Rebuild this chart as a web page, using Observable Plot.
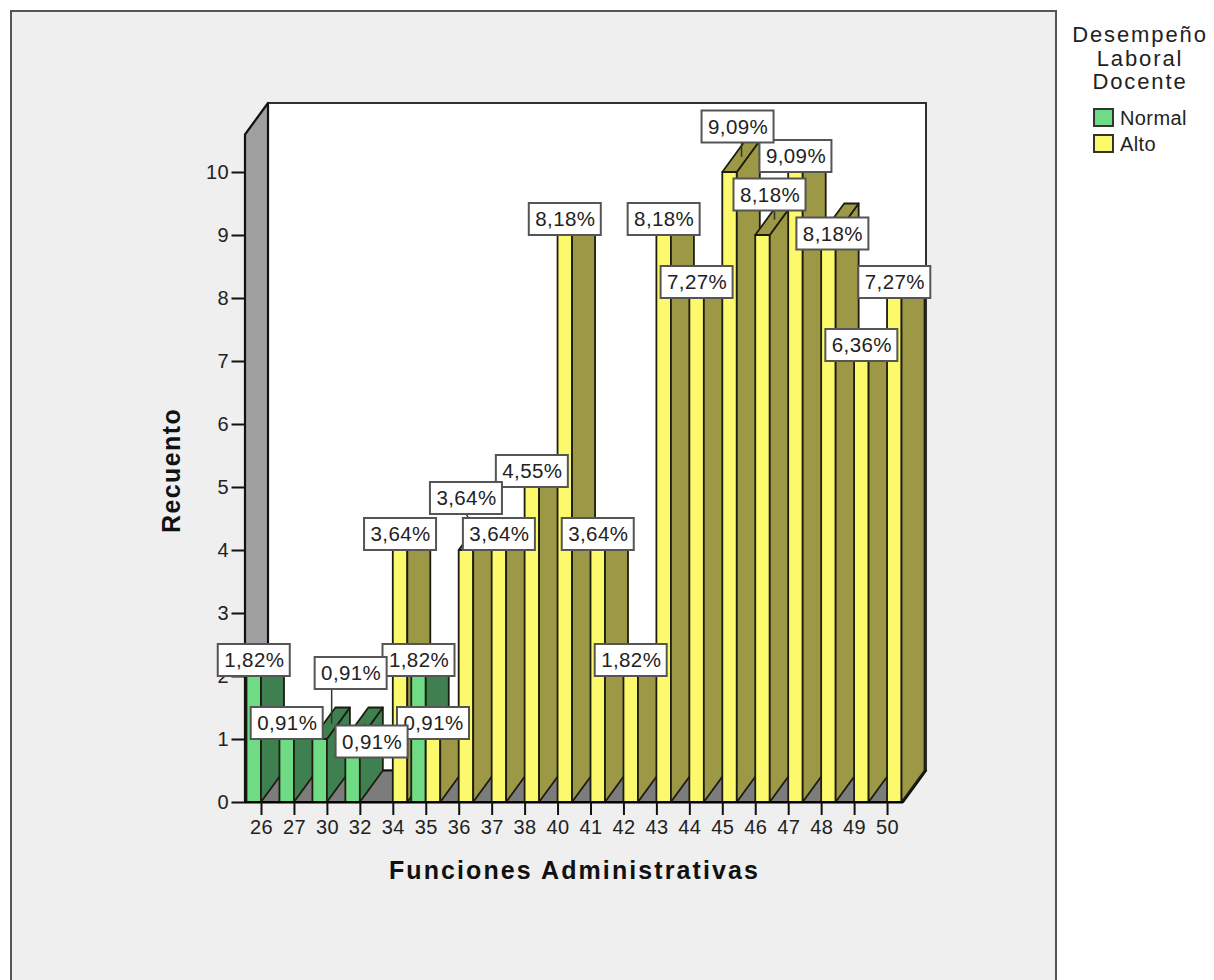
<!DOCTYPE html>
<html lang="es">
<head>
<meta charset="utf-8">
<title>Funciones Administrativas</title>
<script src="https://cdn.jsdelivr.net/npm/d3@7"></script>
<script src="https://cdn.jsdelivr.net/npm/@observablehq/plot@0.6"></script>
<style>
  html, body { margin: 0; padding: 0; background: #fff; }
  body { width: 1214px; height: 980px; position: relative; overflow: hidden; font-family: "Liberation Sans", Arial, sans-serif; }
  #panel { position: absolute; left: 10px; top: 10px; width: 1047px; height: 990px; background: #efefef; border: 2px solid #555; box-sizing: border-box; }
  #chart { position: absolute; left: 0; top: 0; }
  #chart svg text { letter-spacing: 0.4px; }
  #legend { position: absolute; left: 1066px; top: 23px; width: 148px; color: #222; }
  #legend .title { text-align: center; font-size: 22px; line-height: 23.5px; letter-spacing: 1.9px; white-space: nowrap; }
  #legend .item { position: absolute; left: 54px; font-size: 20px; line-height: 20px; letter-spacing: 0.4px; white-space: nowrap; }
  #legend .swatch { position: absolute; left: -27px; top: 0; width: 17px; height: 15px; border: 2px solid #333; }
</style>
</head>
<body>
<div id="panel"></div>
<div id="chart"></div>
<div id="legend">
  <div class="title">Desempeño<br>Laboral<br>Docente</div>
  <div class="item" style="top:85px"><span class="swatch" style="background:#6fdc85"></span>Normal</div>
  <div class="item" style="top:111px"><span class="swatch" style="background:#fcf96c"></span>Alto</div>
</div>
<script>
// Response counts per score of "Funciones Administrativas"
const scores = [26, 27, 30, 32, 34, 35, 36, 37, 38, 40, 41, 42, 43, 44, 45, 46, 47, 48, 49, 50];
const normalCounts = [2, 1, 1, 1, 0, 2, 0, 0, 0, 0, 0, 0, 0, 0, 0, 0, 0, 0, 0, 0];
const altoCounts = [0, 0, 0, 0, 4, 1, 4, 4, 5, 9, 4, 2, 9, 8, 10, 9, 10, 9, 7, 8];
const totalResponses = 110;
const yTicks = [0, 1, 2, 3, 4, 5, 6, 7, 8, 9, 10];
const xTitle = "Funciones Administrativas";
const yTitle = "Recuento";

// Pixel size of one unit on each scale, used to express the oblique projection in data units
const frame = {left: 245, right: 926, top: 103, bottom: 802};
const unitX = 32.95;
const unitY = 63;
const firstTick = 261;
const xDomain = [(frame.left - firstTick) / unitX, (frame.right - firstTick) / unitX];
const yDomain = [0, (frame.bottom - frame.top) / unitY];
const depthX = 23 / unitX;
const depthY = 0.5;
const barWidth = 14.5 / unitX;

const palette = {
  Normal: {front: "#6fdc85", side: "#3f8050"},
  Alto: {front: "#fcf96c", side: "#9c9845"}
};

// Bars in painting order: left to right, Normal before Alto in each cluster
const bars = scores.flatMap((score, i) => [
  {score, series: "Normal", value: normalCounts[i], x0: i - barWidth, x1: i},
  {score, series: "Alto", value: altoCounts[i], x0: i, x1: i + barWidth}
]).filter(d => d.value > 0);

// Every face is a two-point area, so each one is one closed quadrilateral
function quad(id, fill, a, b) {
  return [
    {id, fill, x1: a[0], y1: a[1], x2: a[2], y2: a[3]},
    {id, fill, x1: b[0], y1: b[1], x2: b[2], y2: b[3]}
  ];
}

const barFaces = bars.flatMap((b, n) => {
  const c = palette[b.series];
  return [
    ...quad(`f${n}`, c.front, [b.x0, 0, b.x0, b.value], [b.x1, 0, b.x1, b.value]),
    ...quad(`s${n}`, c.side, [b.x1, 0, b.x1, b.value], [b.x1 + depthX, depthY, b.x1 + depthX, b.value + depthY]),
    ...quad(`t${n}`, c.side, [b.x0, b.value, b.x1, b.value], [b.x0 + depthX, b.value + depthY, b.x1 + depthX, b.value + depthY])
  ];
});

const wallFaces = [
  ...quad("left", "#a0a0a0",
    [xDomain[0], 0, xDomain[0], yDomain[1] - depthY],
    [xDomain[0] + depthX, depthY, xDomain[0] + depthX, yDomain[1]]),
  ...quad("floor", "#7c7c7c",
    [xDomain[0], 0, xDomain[1] - depthX, 0],
    [xDomain[0] + depthX, depthY, xDomain[1], depthY])
];

// Labels that sit away from their bar, in pixels from the default place
const labelShifts = {
  "Normal-30": {dx: 31, dy: -50},
  "Normal-32": {dx: 19, dy: 18.5},
  "Alto-36": {dx: 0, dy: -36, slanted: true},
  "Alto-45": {dx: 8, dy: -29.5},
  "Alto-46": {dx: 7, dy: -24.5},
  "Alto-48": {dx: 4, dy: 14.5}
};
const boxW = 72 / unitX;
const boxH = 32 / unitY;

const labels = bars.map(b => {
  const shift = labelShifts[`${b.series}-${b.score}`];
  const front = (b.x0 + b.x1) / 2;
  const cx = front + (shift ? shift.dx : 0) / unitX;
  const cy = b.value + boxH / 2 - (shift ? shift.dy : 0) / unitY;
  const ax = front + depthX / 2;
  const ay = b.value + depthY / 2;
  return {
    text: (b.value / totalResponses * 100).toFixed(2).replace(".", ",") + "%",
    moved: !!shift, cx, cy, ax, ay,
    leadX: shift && shift.slanted ? cx : ax,
    leadY: cy + (cy > ay ? -boxH / 2 : boxH / 2)
  };
});
// Shifted labels are painted above the others
const orderedLabels = [...labels.filter(d => !d.moved), ...labels.filter(d => d.moved)];
const leaders = labels.filter(d => d.moved);

const chart = Plot.plot({
  width: 1214,
  height: 980,
  marginLeft: frame.left,
  marginRight: 1214 - frame.right,
  marginTop: frame.top,
  marginBottom: 980 - frame.bottom,
  style: {background: "transparent", fontFamily: "'Liberation Sans', Arial, sans-serif", fontSize: "19px", color: "#222"},
  x: {domain: xDomain},
  y: {domain: yDomain},
  marks: [
    // back wall
    Plot.rect([0], {x1: xDomain[0] + depthX, x2: xDomain[1], y1: depthY, y2: yDomain[1], fill: "#fff", stroke: "#1a1a1a", strokeWidth: 1.8}),
    Plot.area(wallFaces, {x1: "x1", y1: "y1", x2: "x2", y2: "y2", z: "id", fill: "fill", stroke: "#111", strokeWidth: 2.2}),
    Plot.area(barFaces, {x1: "x1", y1: "y1", x2: "x2", y2: "y2", z: "id", fill: "fill", stroke: "#1c1c10", strokeWidth: 1.8}),
    Plot.ruleY([0], {x1: xDomain[0], x2: xDomain[1] - depthX, stroke: "#000", strokeWidth: 2}),
    Plot.axisY({
      ticks: yTicks, tickSize: 13.5, tickPadding: 3, label: null,
      tickFormat: d => d, stroke: "#111", strokeWidth: 2, fontSize: 20
    }),
    Plot.axisX({
      ticks: scores.map((_, i) => i), tickSize: 13, tickPadding: 4, label: null,
      tickFormat: i => scores[i], stroke: "#111", strokeWidth: 2, fontSize: 20
    }),
    Plot.text([xTitle], {
      x: (xDomain[0] + xDomain[1] - depthX) / 2, frameAnchor: "bottom", dy: 68,
      lineAnchor: "middle", fontSize: 25, fontWeight: "bold", fill: "#111"
    }),
    Plot.text([yTitle], {
      y: 5.27, frameAnchor: "left", dx: -74, rotate: -90, textAnchor: "middle",
      fontSize: 25, fontWeight: "bold", fill: "#111"
    }),
    // value labels
    Plot.link(leaders, {x1: "ax", y1: "ay", x2: "leadX", y2: "leadY", stroke: "#333", strokeWidth: 1.5}),
    ...orderedLabels.flatMap(d => [
      Plot.rect([d], {
        x1: l => l.cx - boxW / 2, x2: l => l.cx + boxW / 2,
        y1: l => l.cy - boxH / 2, y2: l => l.cy + boxH / 2,
        fill: "#fff", stroke: "#555", strokeWidth: 2
      }),
      Plot.text([d], {x: "cx", y: "cy", text: "text", fontSize: 20.5, fill: "#222"})
    ])
  ]
});

// The axis titles are set wider than the rest of the text
d3.select(chart).selectAll("text").each(function() {
  const content = this.textContent;
  if (content === xTitle) this.style.letterSpacing = "2.1px";
  if (content === yTitle) this.style.letterSpacing = "1.4px";
});

document.getElementById("chart").append(chart);
</script>
</body>
</html>
